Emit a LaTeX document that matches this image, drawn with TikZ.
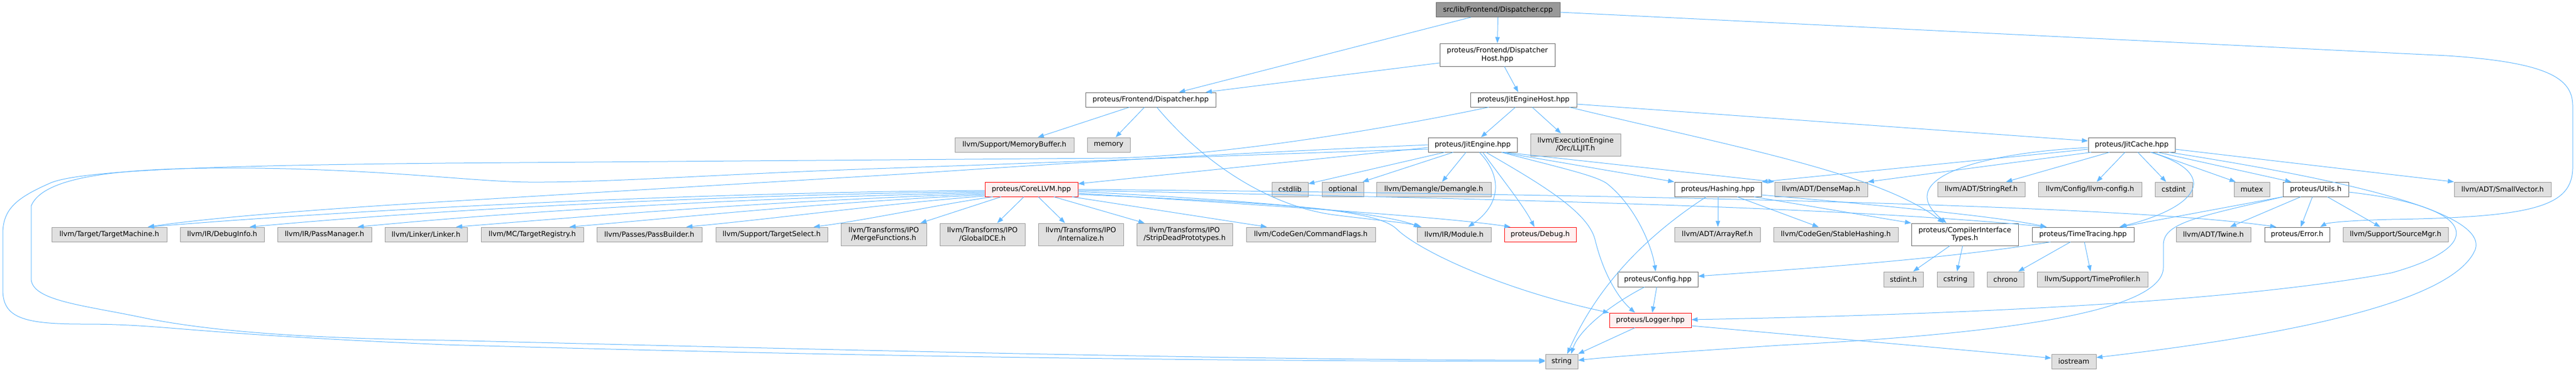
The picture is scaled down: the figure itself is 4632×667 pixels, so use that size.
\documentclass[tikz,border=0pt]{standalone}
\usepackage{fontspec}
\setmainfont{DejaVu Sans}
\usetikzlibrary{arrows.meta}
\definecolor{edgec}{HTML}{63B8FF}
\definecolor{extfill}{HTML}{E0E0E0}
\definecolor{extdraw}{HTML}{999999}
\definecolor{docdraw}{HTML}{666666}
\definecolor{truncfill}{HTML}{FFF0F0}
\definecolor{truncdraw}{HTML}{FF0000}
\definecolor{rootfill}{HTML}{999999}
\begin{document}
\begin{tikzpicture}[x=1pt,y=-1pt,
  box/.style={draw, line width=0.95pt, inner sep=0pt, minimum height=26pt,
    font=\fontsize{12.7}{14.5}\selectfont, align=center, text=black},
  ext/.style={box, fill=extfill, draw=extdraw},
  doc/.style={box, fill=white, draw=docdraw},
  trunc/.style={box, fill=truncfill, draw=truncdraw},
  root/.style={box, fill=rootfill, draw=docdraw},
  two/.style={minimum height=40pt},
  e/.style={draw=edgec, line width=1pt, -{Triangle[length=11pt,width=8pt]}},
]
\useasboundingbox (0,0) rectangle (4632,667);

% rank 0-2
\node[root, minimum width=223pt] (src) at (2693.5,17.5) {src/lib/Frontend/Dispatcher.cpp};
\node[doc, two, minimum width=207pt, minimum height=41pt] (dhost) at (2692.5,98.5) {proteus/Frontend/Dispatcher\\Host.hpp};
\node[doc, minimum width=234pt] (disp) at (2069,179) {proteus/Frontend/Dispatcher.hpp};
\node[doc, minimum width=191pt] (jeh) at (2739.5,179) {proteus/JitEngineHost.hpp};
% rank 3
\node[ext, minimum width=214pt] (membuf) at (1824,260) {llvm/Support/MemoryBuffer.h};
\node[ext, minimum width=77pt] (memory) at (1993.5,260) {memory};
\node[doc, minimum width=160pt] (jite) at (2648,260) {proteus/JitEngine.hpp};
\node[ext, two, minimum width=162pt] (lljit) at (2833,260) {llvm/ExecutionEngine\\/Orc/LLJIT.h};
\node[doc, minimum width=156pt] (jitcache) at (3833,260) {proteus/JitCache.hpp};
% rank 4
\node[trunc, minimum width=167pt] (corellvm) at (1854.5,340) {proteus/CoreLLVM.hpp};
\node[ext, minimum width=65pt] (cstdlib) at (2319.5,340) {cstdlib};
\node[ext, minimum width=75pt] (optional) at (2414.5,340) {optional};
\node[ext, minimum width=206pt] (demangle) at (2578,340) {llvm/Demangle/Demangle.h};
\node[doc, minimum width=156pt] (hashing) at (3089,340) {proteus/Hashing.hpp};
\node[ext, minimum width=167pt] (densemap) at (3274.5,340) {llvm/ADT/DenseMap.h};
\node[ext, minimum width=157pt] (stringref) at (3562.5,340) {llvm/ADT/StringRef.h};
\node[ext, minimum width=186pt] (llvmconfig) at (3758,340) {llvm/Config/llvm-config.h};
\node[ext, minimum width=67pt] (cstdint) at (3908.5,340) {cstdint};
\node[ext, minimum width=64pt] (mutex) at (4049,340) {mutex};
\node[doc, minimum width=118pt] (utils) at (4164,340) {proteus/Utils.h};
\node[ext, minimum width=174pt] (smallvec) at (4500,340) {llvm/ADT/SmallVector.h};
% rank 5
\node[ext, minimum width=207pt] (tm) at (196.5,421) {llvm/Target/TargetMachine.h};
\node[ext, minimum width=151pt] (dbginfo) at (399.5,421) {llvm/IR/DebugInfo.h};
\node[ext, minimum width=169pt] (pm) at (583.5,421) {llvm/IR/PassManager.h};
\node[ext, minimum width=148pt] (linker) at (766,421) {llvm/Linker/Linker.h};
\node[ext, minimum width=184pt] (treg) at (957,421) {llvm/MC/TargetRegistry.h};
\node[ext, minimum width=189pt] (pb) at (1167.5,421) {llvm/Passes/PassBuilder.h};
\node[ext, minimum width=201pt] (tsel) at (1387.5,421) {llvm/Support/TargetSelect.h};
\node[ext, two, minimum width=154pt] (merge) at (1589,421) {llvm/Transforms/IPO\\/MergeFunctions.h};
\node[ext, two, minimum width=153pt] (gdce) at (1766.5,421) {llvm/Transforms/IPO\\/GlobalDCE.h};
\node[ext, two, minimum width=153pt] (intern) at (1943.5,421) {llvm/Transforms/IPO\\/Internalize.h};
\node[ext, two, minimum width=172pt] (strip) at (2130,421) {llvm/Transforms/IPO\\/StripDeadPrototypes.h};
\node[ext, minimum width=232pt] (cmd) at (2357,421) {llvm/CodeGen/CommandFlags.h};
\node[ext, minimum width=133pt] (module) at (2614.5,421) {llvm/IR/Module.h};
\node[trunc, minimum width=129pt] (debug) at (2769.5,421) {proteus/Debug.h};
\node[ext, minimum width=154pt] (arrayref) at (3088,421) {llvm/ADT/ArrayRef.h};
\node[ext, minimum width=224pt] (stable) at (3301,421) {llvm/CodeGen/StableHashing.h};
\node[doc, two, minimum width=192pt] (cit) at (3533,421) {proteus/CompilerInterface\\Types.h};
\node[doc, minimum width=183pt] (tt) at (3745.5,421) {proteus/TimeTracing.hpp};
\node[ext, minimum width=134pt] (twine) at (3980,421) {llvm/ADT/Twine.h};
\node[doc, minimum width=117pt] (error) at (4130.5,421) {proteus/Error.h};
\node[ext, minimum width=189pt] (smgr) at (4307.5,421) {llvm/Support/SourceMgr.h};
% rank 6-8
\node[doc, minimum width=144pt, minimum height=27pt] (config) at (2981,501.5) {proteus/Config.hpp};
\node[ext, minimum width=71pt, minimum height=27pt] (stdint) at (3422.5,501.5) {stdint.h};
\node[ext, minimum width=66pt, minimum height=27pt] (cstring) at (3516,501.5) {cstring};
\node[ext, minimum width=66pt, minimum height=27pt] (chrono) at (3606,501.5) {chrono};
\node[ext, minimum width=199pt, minimum height=27pt] (tprof) at (3762.5,501.5) {llvm/Support/TimeProfiler.h};
\node[trunc, minimum width=147pt] (logger) at (2967.5,575) {proteus/Logger.hpp};
\node[ext, minimum width=58pt] (string) at (2808,649) {string};
\node[ext, minimum width=80pt] (iostream) at (3729,649) {iostream};

% ---- edges ----
% src
\draw[e] ([xshift=-48.5pt]src.south) -- ([xshift=51pt]disp.north);
\draw[e] (src.south) -- (dhost.north);
\draw[e] ([shift={(0,4.5)}]src.east) -- (4400,100) .. controls (4580,112) and (4626,140) .. (4626,190) -- (4626,300) .. controls (4626,370) and (4560,390) .. (4300,394) .. controls (4220,396) and (4185,400) .. ([xshift=41.5pt]error.north);
% dispatcher host
\draw[e] ([shift={(0,14.5)}]dhost.west) -- ([xshift=99pt]disp.north);
\draw[e] ([xshift=12.5pt]dhost.south) -- ([xshift=-9.5pt]jeh.north);
% dispatcher.hpp
\draw[e] ([xshift=-38pt]disp.south) -- ([xshift=42pt]membuf.north);
\draw[e] ([xshift=-11pt]disp.south) -- ([xshift=12.5pt]memory.north);
\draw[e] ([xshift=11pt]disp.south) .. controls (2170,300) and (2290,372) .. (2400,386) .. controls (2480,396) and (2530,400) .. ([xshift=-58.5pt]module.north);
% JitEngineHost
\draw[e] ([xshift=-14.5pt]jeh.south) -- ([xshift=15pt]jite.north);
\draw[e] ([xshift=15.5pt]jeh.south) -- ([xshift=-26pt]lljit.north);
\draw[e] ([xshift=-62.5pt]jeh.south) .. controls (2500,230) and (2200,280) .. (2000,284) -- (800,293) .. controls (400,297) and (150,305) .. (92,328) .. controls (30,355) and (5,375) .. (5,420) -- (5,520) .. controls (5,570) and (40,582) .. (150,582) .. controls (300,582) and (320,598) .. (800,619) .. controls (1400,636) and (2000,648) .. (string.west);
\draw[e] ([shift={(0,8)}]jeh.east) -- ([shift={(0,-7)}]jitcache.west);
\draw[e] ([xshift=82.5pt]jeh.south) .. controls (3100,260) and (3380,310) .. ([xshift=-38pt]cit.north);
% JitEngine
\draw[e] ([shift={(0,8)}]jite.west) .. controls (2400,272) and (2000,288) .. (1600,302) .. controls (1300,312) and (1100,328) .. (950,327) .. controls (850,326) and (700,305) .. (460,302) .. controls (250,300) and (80,310) .. (56,370) -- (56,500) .. controls (56,540) and (150,548) .. (255,570) .. controls (400,600) and (600,608) .. (800,611) .. controls (1500,628) and (2200,646) .. ([shift={(0,-2)}]string.west);
\draw[e] (jite.west) .. controls (2000,285) and (1750,305) .. (1600,314) -- (800,362) .. controls (500,380) and (350,395) .. ([xshift=69.5pt]tm.north);
\draw[e] ([shift={(0,5)}]jite.west) -- ([shift={(0,-10)}]corellvm.east);
\draw[e] ([xshift=-50pt]jite.south) -- ([shift={(0,-10)}]cstdlib.east);
\draw[e] ([xshift=-35pt]jite.south) -- ([xshift=35.5pt]optional.north);
\draw[e] ([xshift=-12pt]jite.south) -- ([xshift=15pt]demangle.north);
\draw[e] ([xshift=12pt]jite.south) .. controls (2705,320) and (2695,370) .. ([xshift=25.5pt]module.north);
\draw[e] ([xshift=18pt]jite.south) .. controls (2700,320) and (2740,370) .. ([xshift=-10.5pt]debug.north);
\draw[e] ([xshift=24pt]jite.south) .. controls (2770,330) and (2855,380) .. (2868,430) .. controls (2885,500) and (2915,540) .. ([xshift=-27.5pt]logger.north);
\draw[e] ([xshift=52pt]jite.south) .. controls (2800,300) and (2870,315) .. (2890,330) .. controls (2940,370) and (2970,440) .. ([xshift=-4pt]config.north);
\draw[e] ([xshift=52pt]jite.south) -- (hashing.north west);
\draw[e] ([xshift=57pt]jite.south) -- (densemap.north west);
% CoreLLVM left fan
\draw[e] ([shift={(0,2)}]corellvm.west) .. controls (1300,345) and (700,372) .. ([xshift=69.5pt]tm.north);
\draw[e] ([shift={(0,4)}]corellvm.west) .. controls (1300,350) and (800,375) .. ([xshift=49.5pt]dbginfo.north);
\draw[e] ([shift={(0,6)}]corellvm.west) .. controls (1350,355) and (950,378) .. ([xshift=59.5pt]pm.north);
\draw[e] ([shift={(0,8)}]corellvm.west) .. controls (1400,360) and (1100,385) .. ([xshift=54pt]linker.north);
\draw[e] ([shift={(0,10)}]corellvm.west) .. controls (1500,362) and (1250,388) .. ([xshift=67pt]treg.north);
\draw[e] ([shift={(0,12)}]corellvm.west) .. controls (1600,365) and (1400,392) .. ([xshift=66.5pt]pb.north);
\draw[e] ([xshift=-69.5pt]corellvm.south) .. controls (1700,365) and (1560,395) .. ([xshift=75.5pt]tsel.north);
\draw[e] ([xshift=-54.5pt]corellvm.south) -- ([xshift=66pt]merge.north);
\draw[e] ([xshift=-13.5pt]corellvm.south) -- ([xshift=26.5pt]gdce.north);
\draw[e] ([xshift=12.5pt]corellvm.south) -- ([xshift=-28.5pt]intern.north);
\draw[e] ([xshift=40.5pt]corellvm.south) -- ([xshift=-72pt]strip.north);
\draw[e] ([xshift=73.5pt]corellvm.south) -- ([xshift=-79pt]cmd.north);
% CoreLLVM right
\draw[e] ([shift={(0,4)}]corellvm.east) .. controls (2250,360) and (2480,380) .. ([xshift=-61.5pt]module.north);
\draw[e] ([shift={(0,7)}]corellvm.east) .. controls (2300,370) and (2600,390) .. ([xshift=-53.5pt]debug.north);
\draw[e] ([shift={(0,9)}]corellvm.east) .. controls (2300,365) and (2470,375) .. (2510,410) .. controls (2550,450) and (2700,520) .. (logger.north west);
\draw[e] ([shift={(0,2)}]corellvm.east) .. controls (2600,355) and (3300,370) .. ([xshift=-65.5pt]tt.north);
\draw[e] (corellvm.east) .. controls (2800,348) and (3800,365) .. ([xshift=-37.5pt]error.north);
% Hashing
\draw[e] ([xshift=-21pt]hashing.south) .. controls (2950,430) and (2870,520) .. ([xshift=10pt]string.north);
\draw[e] (hashing.south) -- ([xshift=1pt]arrayref.north);
\draw[e] ([xshift=35pt]hashing.south) -- ([xshift=-31pt]stable.north);
\draw[e] ([xshift=65pt]hashing.south) -- (cit.north west);
\draw[e] ([shift={(0,10)}]hashing.east) .. controls (3400,370) and (3600,390) .. ([xshift=-65.5pt]tt.north);
% JitCache
\draw[e] ([shift={(0,5)}]jitcache.west) .. controls (3560,275) and (3400,320) .. ([xshift=-33pt]cit.north);
\draw[e] ([shift={(0,8)}]jitcache.west) -- (hashing.north east);
\draw[e] ([xshift=-73pt]jitcache.south) -- (densemap.north east);
\draw[e] ([xshift=-40pt]jitcache.south) -- ([xshift=44.5pt]stringref.north);
\draw[e] ([xshift=-12pt]jitcache.south) -- ([xshift=12pt]llvmconfig.north);
\draw[e] ([xshift=11pt]jitcache.south) -- ([xshift=-13.5pt]cstdint.north);
\draw[e] ([xshift=34pt]jitcache.south) .. controls (3990,310) and (3960,370) .. ([xshift=65.5pt]tt.north);
\draw[e] ([xshift=37pt]jitcache.south) -- ([xshift=-29pt]mutex.north);
\draw[e] ([xshift=47pt]jitcache.south) -- ([xshift=-44pt]utils.north);
\draw[e] ([xshift=67pt]jitcache.south) .. controls (4200,320) and (4480,380) .. (4450,450) .. controls (4400,560) and (4000,615) .. ([shift={(0,-7)}]iostream.east);
\draw[e] ([shift={(0,8)}]jitcache.east) -- (smallvec.north west);
% Utils
\draw[e] ([xshift=-27pt]utils.south) -- ([xshift=30pt]twine.north);
\draw[e] ([xshift=-6pt]utils.south) -- ([xshift=6.5pt]error.north);
\draw[e] ([xshift=21pt]utils.south) -- ([xshift=-27.5pt]smgr.north);
\draw[e] (utils.south west) -- ([xshift=67.5pt]tt.north);
\draw[e] (utils.south west) .. controls (3950,390) and (3890,400) .. (3890,440) -- (3890,480) .. controls (3890,560) and (3600,600) .. (3200,620) .. controls (3050,630) and (2900,640) .. ([shift={(0,-2)}]string.east);
\draw[e] ([shift={(0,5)}]utils.east) .. controls (4450,370) and (4480,440) .. (4300,490) .. controls (4000,545) and (3500,565) .. ([shift={(0,-1)}]logger.east);
% TimeTracing
\draw[e] ([xshift=-22.5pt]tt.south) -- ([xshift=23pt]chrono.north);
\draw[e] ([xshift=2.5pt]tt.south) -- ([xshift=-3.5pt]tprof.north);
\draw[e] ([xshift=-58.5pt]tt.south) .. controls (3500,465) and (3250,482) .. ([shift={(0,-5.5)}]config.east);
% CompilerInterfaceTypes
\draw[e] ([xshift=-27pt]cit.south) -- ([xshift=17.5pt]stdint.north);
\draw[e] ([xshift=-4pt]cit.south) -- ([xshift=3pt]cstring.north);
% Config
\draw[e] ([xshift=-2pt]config.south) -- ([xshift=3.5pt]logger.north);
\draw[e] ([xshift=-24pt]config.south) .. controls (2900,545) and (2840,590) .. ([xshift=17pt]string.north);
% Logger
\draw[e] ([xshift=-27.5pt]logger.south) -- (string.north east);
\draw[e] ([shift={(0,10)}]logger.east) .. controls (3300,608) and (3550,630) .. ([shift={(0,-6)}]iostream.west);
\end{tikzpicture}
\end{document}
